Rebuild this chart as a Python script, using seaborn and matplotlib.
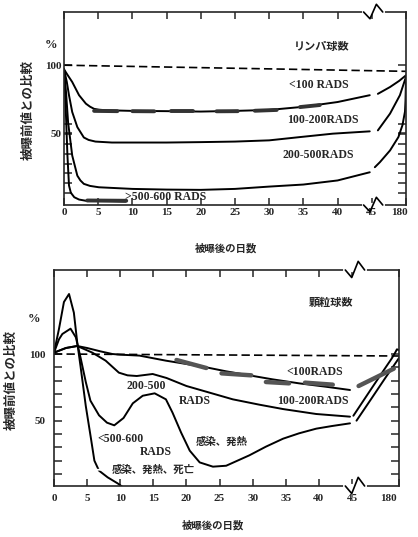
import numpy as np
import matplotlib
matplotlib.use('Agg')
import matplotlib.pyplot as plt
import matplotlib.transforms as mtrans
import seaborn as sns

# ---- top panel: lymphocytes (days, % of pre-exposure value) ----
lym_lt100_day = [0, 0.5, 1.2, 2.2, 3.2, 3.8, 4.4, 5.1, 6, 10, 15, 20, 25, 30, 35, 40, 44.7]
lym_lt100_val = [97, 93, 87.7, 78, 71.8, 69.6, 68, 67.4, 67, 66.5, 66.3, 66, 66.5, 67.2, 69.5, 73, 78]
lym_lt100_day2 = [69, 117, 153, 180]
lym_lt100_val2 = [79, 84, 88.5, 92.6]

lym_100_200_day = [0, 0.4, 0.73, 1.2, 1.95, 2.9, 3.6, 4.6, 7, 15, 20, 25, 30, 34.5, 39.3, 44.7]
lym_100_200_val = [97, 88, 78, 65.7, 54.6, 47, 45.2, 44, 43.3, 43.3, 43.6, 44, 44.9, 47.3, 49.8, 51.5]
lym_100_200_day2 = [69, 117, 156, 180]
lym_100_200_val2 = [52.2, 64.5, 78, 91.5]

lym_200_500_day = [0, 0.3, 0.6, 1.2, 1.95, 2.4, 2.9, 3.8, 5.1, 10, 15, 20, 25, 30, 35, 40, 44.7]
lym_200_500_val = [97, 80, 58, 33.8, 19, 15.5, 13, 11.5, 10.5, 9.3, 8.8, 8.6, 9.3, 11, 12.5, 15.5, 21.5]
lym_200_500_day2 = [57, 77, 117, 150, 166, 176, 178, 180]
lym_200_500_val2 = [25.2, 28.9, 37.5, 47.3, 56, 66, 74, 90]

lym_gt500_day = [0, 0.2, 0.35, 0.5, 0.73, 1.0, 1.5, 2.2, 3.2, 5, 7, 9]
lym_gt500_val = [97, 75, 55, 34, 11.8, 6.5, 3.2, 1.5, 0.6, 0.4, 0.3, 0]

lym_band_day = [[4.4, 7.8], [10, 13.2], [15.7, 18.8], [22.3, 25.4], [27.9, 31.1], [34.5, 37.4], [3.4, 9.1]]
lym_band_val = [[66.5, 66.3], [66.3, 66.2], [66.2, 66.2], [66.2, 66.3], [66.6, 67.2], [69.3, 70.8], [0.8, 0.6]]

lym_base_day = [0, 180]
lym_base_val = [100, 95.5]

# ---- bottom panel: granulocytes ----
gra_lt100_day = [0, 1.8, 3.5, 5, 7, 8.8, 10, 12.9, 16.9, 20, 23, 26, 29.5, 33, 37, 41, 44.7]
gra_lt100_val = [101, 104.5, 106, 104.5, 102, 100, 99.5, 98.8, 95, 92.5, 90, 87, 84, 81, 78, 75.5, 73]

gra_100_200_day = [0, 1.8, 3.5, 5.8, 7.8, 9.8, 11.1, 12.5, 14.9, 17, 20, 23.5, 27, 31, 34.6, 39.6, 44.7]
gra_100_200_val = [101, 104.5, 106, 101, 95, 86, 84, 83.5, 85, 82, 76, 71, 66, 62, 58.7, 55, 53]
gra_100_200_day2 = [49, 102, 140, 159, 169, 174, 180]
gra_100_200_val2 = [53.7, 74.5, 89.3, 96.6, 101, 103.5, 103]

gra_200_500_day = [0, 0.75, 1.26, 2.5, 3.3, 4.0, 4.8, 5.5, 6.8, 8.0, 9.1, 10.5, 11.9, 13.4, 15.2,
                   16.9, 17.9, 19.2, 20.5, 22, 24, 26, 29.5, 32, 34.6, 37, 39.6, 42, 44.7]
gra_200_500_val = [101, 111, 115, 119, 112.5, 97.5, 79, 65, 54, 48.5, 46.5, 52, 63, 68.7, 70.5,
                   66, 56, 41, 27.5, 18.7, 15.5, 16.2, 24, 30.5, 36.5, 40.5, 44, 46, 48]
gra_200_500_day2 = [58, 102, 140, 180]
gra_200_500_val2 = [50, 67, 81.8, 97]

gra_500_600_day = [0, 0.76, 1.5, 2.27, 3.0, 3.5, 4.0, 4.8, 5.6, 6.1, 6.8, 8.1, 9.6, 10.3]
gra_500_600_val = [101, 119, 139, 145, 131, 109, 91, 61, 36, 20, 12.5, 7.5, 3, 0.5]

gra_band_day = [[18.5, 23], [25.3, 29.8], [32, 35.5], [37.9, 42.1], [64, 165]]
gra_band_val = [[95.5, 89.5], [85.5, 84], [79, 78], [78.5, 77], [76, 89]]

gra_base_day = [0, 180]
gra_base_val = [100, 98.5]

day_ticks = [0, 5, 10, 15, 20, 25, 30, 35, 40, 45, 180]


def to_pos(days, p180):
    d = np.asarray(days, float)
    return np.where(d <= 45, d, 45 + (d - 45) * (p180 - 45) / 135)


def curve(ax, d, v, p180, **kw):
    sns.lineplot(x=to_pos(d, p180), y=np.asarray(v, float), ax=ax, sort=False,
                 estimator=None, **kw)


def draw_break(ax, xpos):
    x0, x1 = ax.get_xlim()
    f = (xpos - x0) / (x1 - x0)
    w = 0.028
    for yb in (0, 1):
        ax.plot([f - w, f + w], [yb, yb], color='white', lw=3, transform=ax.transAxes,
                clip_on=False, zorder=5)
        ax.plot([f - w, f - w / 3, f + w / 3, f + w], [yb, yb - 0.035, yb + 0.04, yb],
                color='black', lw=1.2, transform=ax.transAxes, clip_on=False, zorder=6)


sns.set_style('ticks')
plt.rcParams['font.family'] = ['Liberation Serif', 'Noto Sans CJK JP']
plt.rcParams['font.weight'] = 'bold'
plt.rcParams['axes.linewidth'] = 1.2

fig = plt.figure(figsize=(4.18, 5.37), dpi=100)
ax1 = fig.add_axes([64 / 418, 1 - 205 / 537, 342 / 418, 193 / 537])
ax2 = fig.add_axes([54 / 418, 1 - 486 / 537, 345 / 418, 216 / 537])

line_kw = dict(color='black', lw=1.4)
jp = 'Noto Sans CJK JP'
fs = 8.5

# top panel
p1 = 50.0
curve(ax1, lym_base_day, lym_base_val, p1, color='black', lw=1.2, dashes=(5, 2.5))
for d, v in [(lym_lt100_day, lym_lt100_val), (lym_lt100_day2, lym_lt100_val2),
             (lym_100_200_day, lym_100_200_val), (lym_100_200_day2, lym_100_200_val2),
             (lym_200_500_day, lym_200_500_val), (lym_200_500_day2, lym_200_500_val2),
             (lym_gt500_day, lym_gt500_val)]:
    curve(ax1, d, v, p1, **line_kw)
for d, v in zip(lym_band_day, lym_band_val):
    curve(ax1, d, v, p1, color='#333333', lw=2.8)
ax1.set_xlim(0, p1)
ax1.set_ylim(-2.5, 139)
ax1.set_yticks([50, 100])
ax1.set_yticks(np.arange(6, 58, 7.3), minor=True)
ax1.text(37.6, 114, 'リンパ球数', fontsize=8, family=jp, ha='center', va='center')
ax1.text(37.2, 85.3, '<100 RADS', fontsize=fs, ha='center', va='center')
ax1.text(37.9, 59.5, '100-200RADS', fontsize=fs, ha='center', va='center')
ax1.text(37.2, 33.8, '200-500RADS', fontsize=fs, ha='center', va='center')
ax1.text(14.9, 3.4, '>500-600 RADS', fontsize=fs, ha='center', va='center')
ax1.text(-1.9, 114.7, '%', fontsize=9, ha='center', va='center')

# bottom panel
p2 = 52.1
curve(ax2, gra_base_day, gra_base_val, p2, color='black', lw=1.2, dashes=(5, 2.5))
for d, v in [(gra_lt100_day, gra_lt100_val),
             (gra_100_200_day, gra_100_200_val), (gra_100_200_day2, gra_100_200_val2),
             (gra_200_500_day, gra_200_500_val), (gra_200_500_day2, gra_200_500_val2),
             (gra_500_600_day, gra_500_600_val)]:
    curve(ax2, d, v, p2, **line_kw)
for d, v in zip(gra_band_day, gra_band_val):
    curve(ax2, d, v, p2, color='#555555', lw=3.2)
ax2.set_xlim(0, p2)
ax2.set_ylim(1, 163)
ax2.set_yticks([50, 100])
ax2.set_yticks(np.arange(10, 95, 10), minor=True)
ax2.text(41.9, 138.8, '顆粒球数', fontsize=8, family=jp, ha='center', va='center')
ax2.text(39.4, 86.2, '<100RADS', fontsize=fs, ha='center', va='center')
ax2.text(39.1, 65.0, '100-200RADS', fontsize=fs, ha='center', va='center')
ax2.text(13.9, 76.2, '200-500', fontsize=fs, ha='center', va='center')
ax2.text(21.2, 65.0, 'RADS', fontsize=fs, ha='center', va='center')
ax2.text(10.1, 36.1, '<500-600', fontsize=fs, ha='center', va='center')
ax2.text(15.4, 26.7, 'RADS', fontsize=fs, ha='center', va='center')
ax2.text(25.3, 34.2, '感染、発熱', fontsize=7.5, family=jp, ha='center', va='center')
ax2.annotate('感染、発熱、死亡', xy=(6.4, 13.2), xytext=(8.7, 13.2), fontsize=7.5,
             family=jp, ha='left', va='center',
             arrowprops=dict(arrowstyle='-', lw=1.3, shrinkA=0, shrinkB=0))
ax2.text(-3.0, 126.4, '%', fontsize=9, ha='center', va='center')

for ax, p, xpad, ypad, shift, brk in [(ax1, p1, 2.5, 2, -7, 45.2), (ax2, p2, 6, 6, -11, 45.45)]:
    ax.set_xticks(to_pos(day_ticks, p))
    ax.set_xticklabels([str(t) for t in day_ticks])
    ax.set_yticklabels(['50', '100'])
    ax.tick_params(axis='x', direction='in', top=True, length=5, width=1.1,
                   labelsize=8, pad=xpad)
    ax.tick_params(axis='y', which='both', direction='in', right=True, length=6,
                   width=1.1, labelsize=8, pad=ypad)
    for s in ax.spines.values():
        s.set_visible(True)
        s.set_linewidth(1.2)
    ax.set_xlabel('')
    ax.set_ylabel('')
    lab = ax.get_xticklabels()[-1]
    lab.set_transform(lab.get_transform() +
                      mtrans.ScaledTranslation(shift / 100, 0, fig.dpi_scale_trans))
    draw_break(ax, brk)

fig.text(28 / 418, 1 - 110 / 537, '被曝前値との比較', rotation=90, fontsize=9,
         family=jp, ha='center', va='center')
fig.text(11 / 418, 1 - 380 / 537, '被曝前値との比較', rotation=90, fontsize=9,
         family=jp, ha='center', va='center')
fig.text(226 / 418, 1 - 248 / 537, '被曝後の日数', fontsize=7.5, family=jp,
         ha='center', va='center')
fig.text(213 / 418, 1 - 525 / 537, '被曝後の日数', fontsize=7.5, family=jp,
         ha='center', va='center')

fig.savefig('out.png', dpi=100)
